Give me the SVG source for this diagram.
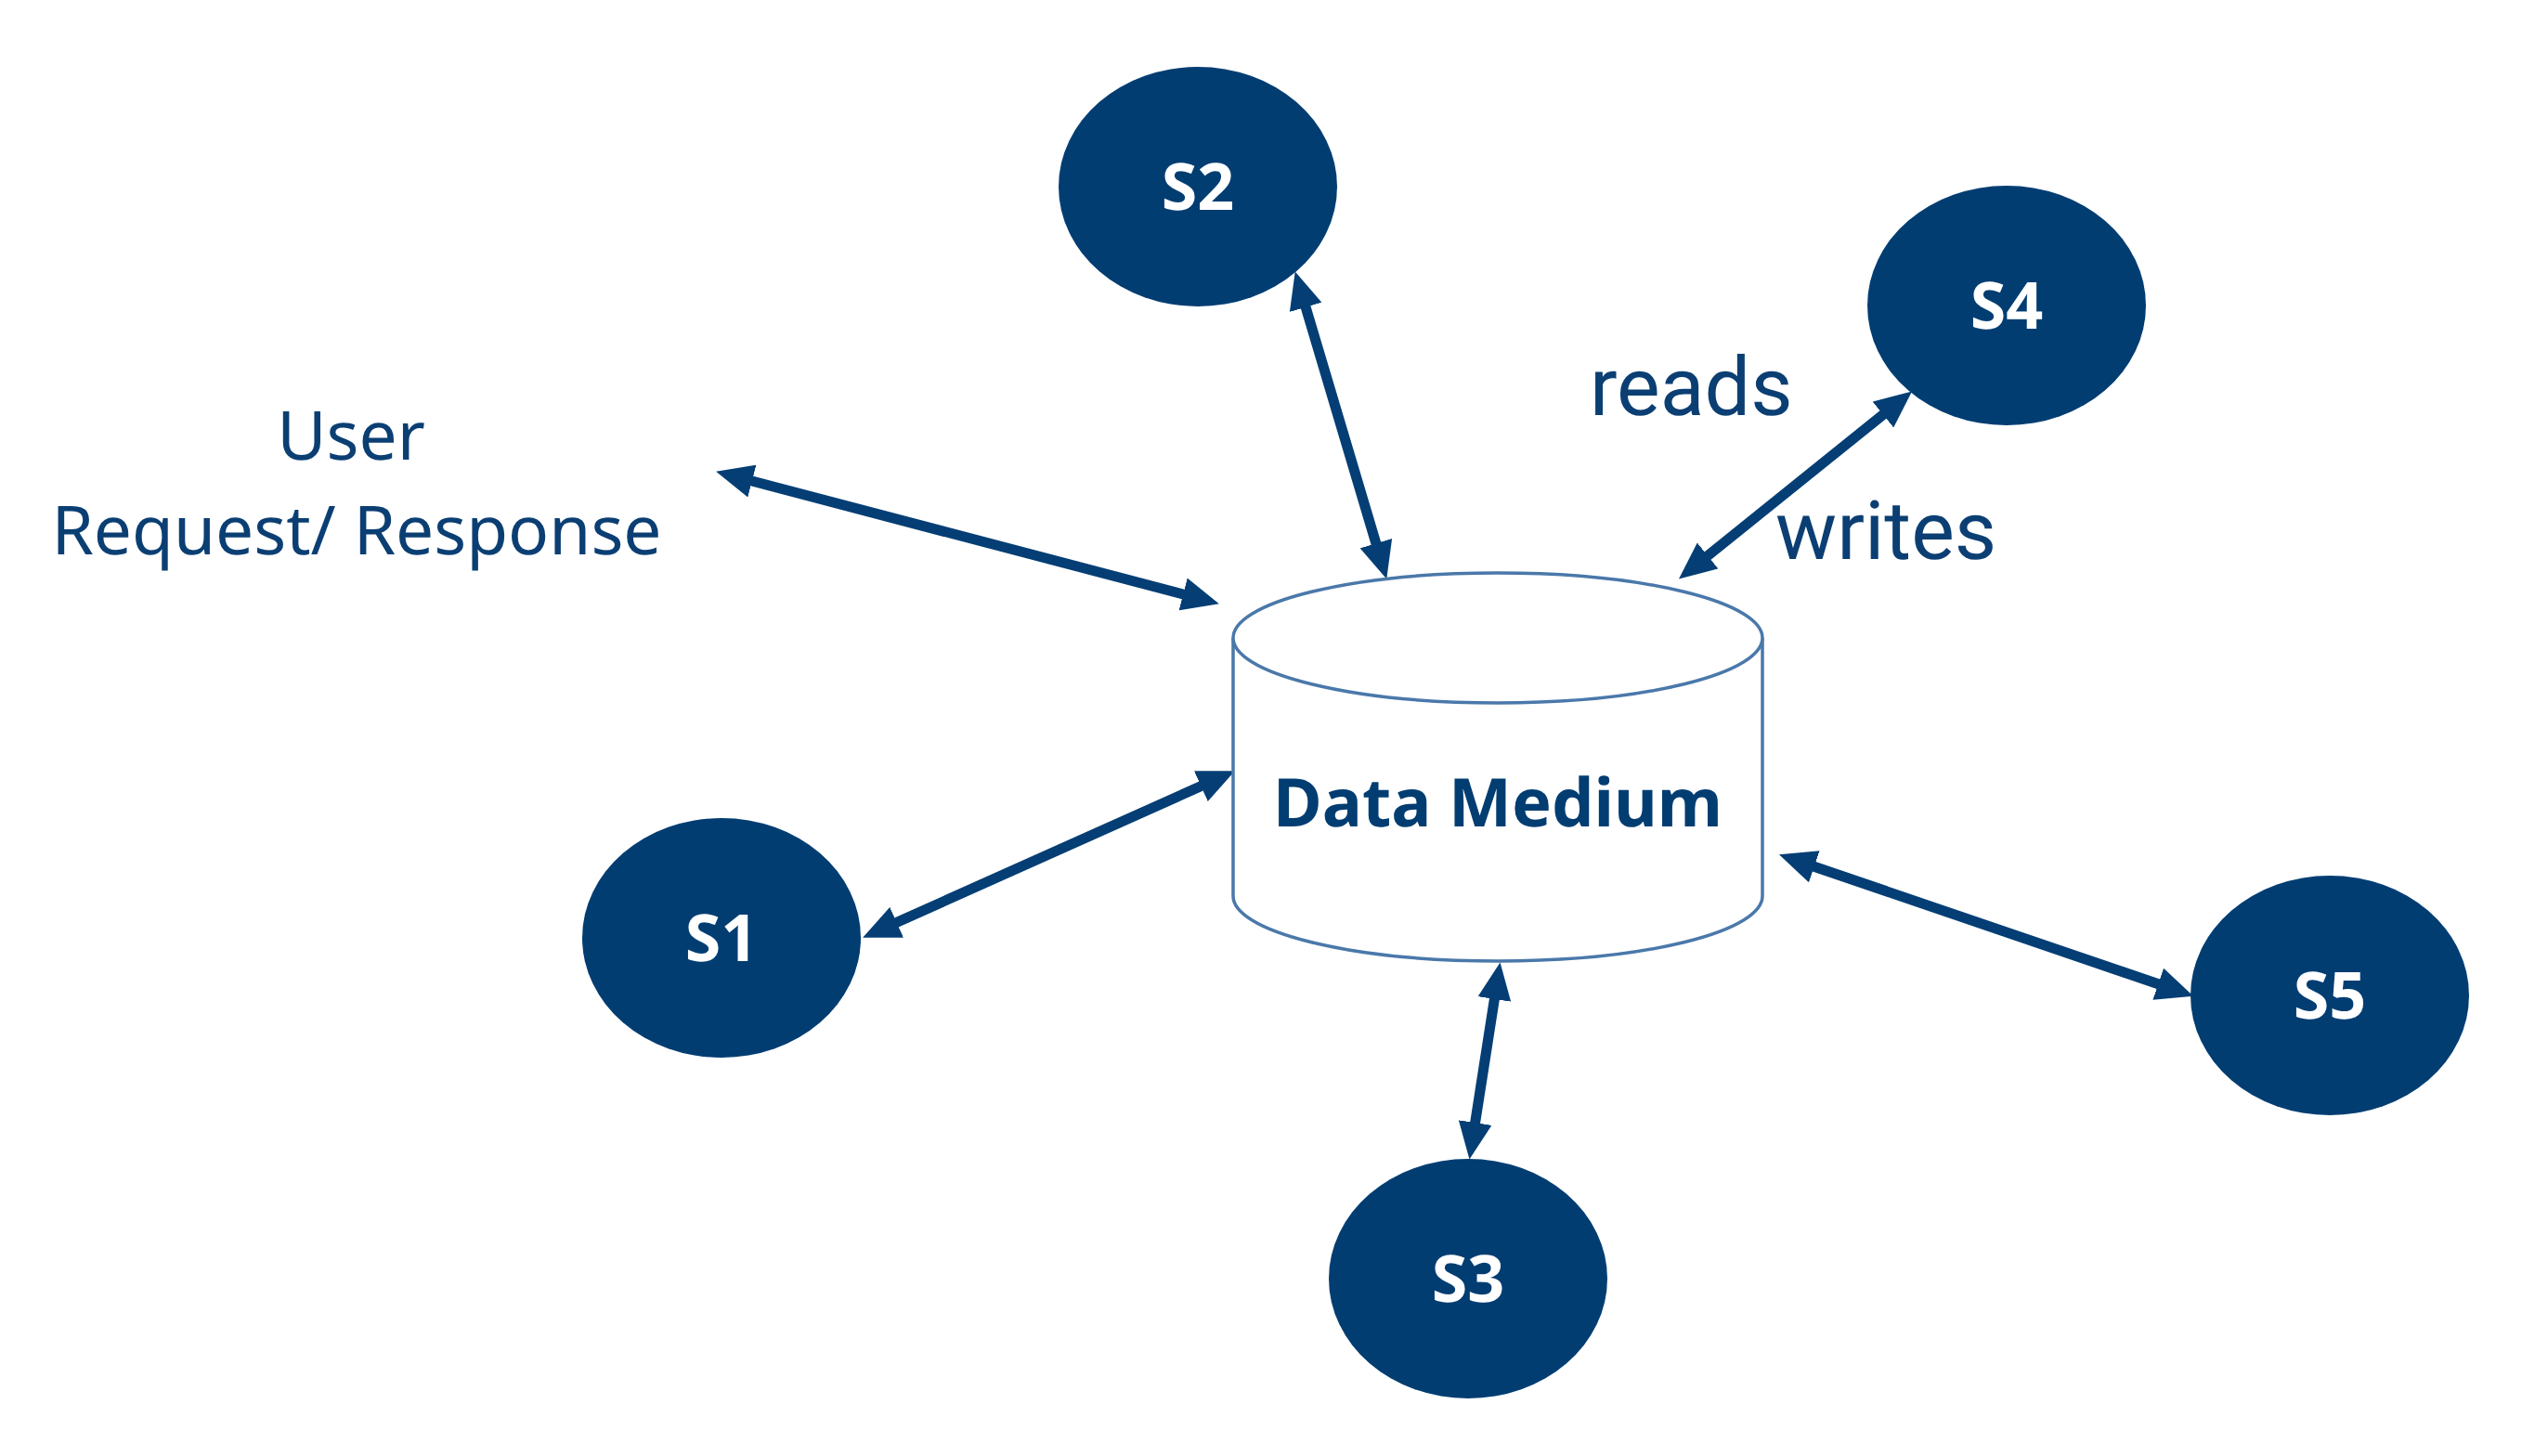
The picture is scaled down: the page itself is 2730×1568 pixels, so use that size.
<svg xmlns="http://www.w3.org/2000/svg" width="2730" height="1568" viewBox="0 0 2730 1568">
<style>
text{text-rendering:geometricPrecision}
.node{fill:#023d72}
.nlabel{font-family:"Noto Sans","Liberation Sans",sans-serif;font-weight:bold;font-size:70px;fill:#ffffff;text-anchor:middle}
.conn{stroke:#043e74;stroke-width:11;fill:none}
.lbl{font-family:"Noto Sans","Liberation Sans",sans-serif;font-size:73px;fill:#0b3f73;text-anchor:middle}
.rw{font-family:Roboto,"Liberation Sans",sans-serif;font-size:88px;fill:#0b3f73}
.cyl{fill:#ffffff;stroke:#4a78aa;stroke-width:3.5}
</style>
<defs>
<marker id="ah" markerUnits="userSpaceOnUse" markerWidth="40" markerHeight="36" refX="4" refY="18" orient="auto-start-reverse" viewBox="0 0 40 36">
<path d="M0,0 L40,18 L0,36 z" fill="#043e74"/>
</marker>
</defs>
<rect width="2730" height="1568" fill="#ffffff"/>
<g id="connectors">
<line class="conn" x1="806" y1="517" x2="1278" y2="641" marker-start="url(#ah)" marker-end="url(#ah)"/>
<line class="conn" x1="1405" y1="327" x2="1483" y2="589" marker-start="url(#ah)" marker-end="url(#ah)"/>
<line class="conn" x1="2031" y1="444" x2="1836" y2="601" marker-start="url(#ah)" marker-end="url(#ah)"/>
<line class="conn" x1="962" y1="995" x2="1297" y2="845" marker-start="url(#ah)" marker-end="url(#ah)"/>
<line class="conn" x1="1610" y1="1072" x2="1588" y2="1213" marker-start="url(#ah)" marker-end="url(#ah)"/>
<line class="conn" x1="1950" y1="932" x2="2328" y2="1061" marker-start="url(#ah)" marker-end="url(#ah)"/>
</g>
<g id="data-medium">
<path class="cyl" d="M1328,687 L1328,965 A285,70 0 0 0 1898,965 L1898,687"/>
<ellipse class="cyl" cx="1613" cy="687" rx="285" ry="70"/>
<text x="1613" y="890" font-family="'Noto Sans','Liberation Sans',sans-serif" font-weight="bold" font-size="72" fill="#023d72" text-anchor="middle">Data Medium</text>
</g>
<g id="S1"><ellipse class="node" cx="777" cy="1010" rx="150" ry="129"/><text class="nlabel" x="777" y="1035">S1</text></g>
<g id="S2"><ellipse class="node" cx="1290" cy="201" rx="150" ry="129"/><text class="nlabel" x="1290" y="226">S2</text></g>
<g id="S3"><ellipse class="node" cx="1581" cy="1377" rx="150" ry="129"/><text class="nlabel" x="1581" y="1402">S3</text></g>
<g id="S4"><ellipse class="node" cx="2161" cy="329" rx="150" ry="129"/><text class="nlabel" x="2161" y="354">S4</text></g>
<g id="S5"><ellipse class="node" cx="2509" cy="1072" rx="150" ry="129"/><text class="nlabel" x="2509" y="1097">S5</text></g>
<g id="labels">
<text class="lbl" x="378" y="495">User</text>
<text class="lbl" x="384" y="597">Request/ Response</text>
<text class="rw" x="1712" y="447">reads</text>
<text class="rw" x="1912" y="602">writes</text>
</g>
</svg>
